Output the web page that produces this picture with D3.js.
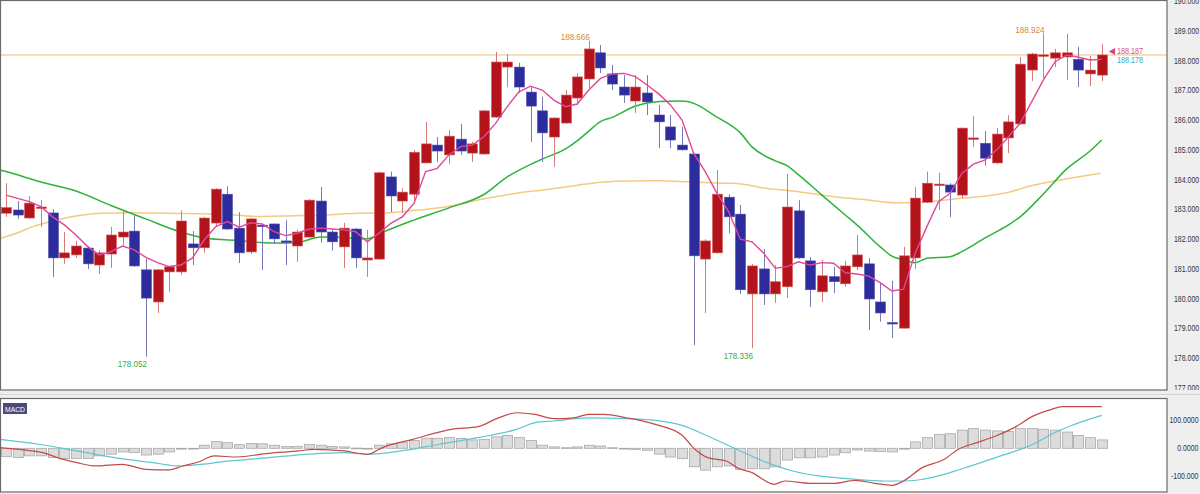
<!DOCTYPE html>
<html>
<head>
<meta charset="utf-8">
<script src="https://cdn.jsdelivr.net/npm/d3@7"></script>
<style>
  html, body { margin: 0; padding: 0; background: #ffffff; }
  svg { display: block; }
  text { font-family: "Liberation Sans", Arial, sans-serif; }
</style>
</head>
<body>
<svg id="chart" width="1200" height="494"></svg>
<script>
// ---------------- DATA ----------------
const opens  = [182.87,182.98,182.71,183.05,182.88,181.37,181.47,181.70,181.13,181.50,
                182.07,182.27,180.97,179.89,180.90,180.90,181.84,181.71,182.54,183.51,
                182.37,181.57,182.47,182.51,181.94,181.77,182.07,183.28,182.24,181.74,
                182.34,181.30,181.33,184.09,183.28,183.51,184.56,185.16,184.83,185.36,
                184.89,184.86,186.10,187.78,187.78,186.94,186.31,185.43,185.90,186.74,
                187.38,188.26,187.55,187.11,186.64,186.91,186.17,185.77,185.16,184.86,
                181.33,181.54,183.41,182.84,180.16,181.00,180.16,180.40,182.95,181.27,
                180.23,180.74,180.50,181.07,181.17,179.89,179.20,179.01,181.37,183.24,
                183.80,183.82,183.48,185.36,185.22,184.56,185.40,185.87,187.68,188.17,
                188.08,188.12,188.04,187.55,187.51];
const highs  = [183.88,183.28,183.45,183.32,183.01,182.24,181.94,181.77,181.64,182.41,
                182.95,182.81,181.34,181.00,181.08,182.96,182.27,182.75,183.71,183.78,
                182.91,182.71,182.50,182.53,182.64,182.32,183.34,183.75,182.31,182.55,
                182.37,182.31,184.27,184.27,183.71,185.00,185.94,185.43,185.67,185.87,
                185.27,186.34,188.29,188.22,187.92,187.11,186.78,186.10,187.01,187.58,
                188.666,188.52,187.85,187.51,187.51,187.51,186.51,186.17,185.77,184.88,
                182.00,184.32,183.51,183.15,181.17,181.67,181.13,184.19,183.31,181.40,
                181.30,181.07,181.27,182.14,181.37,180.53,180.60,181.74,183.75,184.27,
                184.23,183.88,185.75,186.14,185.63,185.73,186.17,188.12,188.26,188.924,
                188.39,188.90,188.46,188.15,188.55];
const lows   = [182.75,182.68,182.68,182.41,180.73,181.17,181.37,181.00,180.83,181.03,
                181.80,181.07,178.052,179.52,180.23,180.80,181.13,181.54,182.41,182.31,
                181.20,181.50,180.96,181.84,181.13,181.24,182.05,181.88,181.61,181.03,
                181.03,180.73,181.30,182.91,182.88,183.21,184.55,184.59,184.52,184.83,
                184.59,184.83,186.07,187.11,186.91,185.26,184.60,184.43,185.88,186.51,
                187.08,187.58,187.01,186.58,186.24,186.17,185.06,185.06,184.98,178.44,
                179.52,181.52,182.20,180.16,178.336,179.79,179.86,180.02,181.34,179.72,
                179.89,180.19,180.40,180.96,178.95,179.23,178.68,179.00,181.00,183.21,
                182.98,182.74,183.38,185.10,184.46,184.52,184.89,185.84,187.31,187.41,
                187.78,187.35,187.11,187.14,187.31];
const closes = [183.06,182.81,183.21,183.08,181.37,181.54,181.77,181.17,181.54,182.14,
                182.24,181.10,180.02,180.97,181.07,182.61,181.71,182.71,183.68,182.34,
                181.54,182.68,182.45,182.01,181.91,182.24,183.31,182.24,181.91,182.37,
                181.37,181.37,184.23,183.45,183.58,184.92,185.20,184.96,185.46,184.96,
                185.20,186.31,187.95,187.95,187.11,186.47,185.57,186.07,186.84,187.45,
                188.39,187.75,187.21,186.84,187.11,186.61,185.94,185.33,185.00,181.44,
                181.94,183.51,182.75,180.30,181.10,180.16,180.57,183.08,181.37,180.30,
                180.77,180.57,181.10,181.47,179.99,179.52,179.16,181.44,183.38,183.88,
                183.85,183.58,185.73,185.40,184.72,185.53,185.94,187.88,188.22,188.19,
                188.26,188.26,187.68,187.68,188.187];

// short moving average (pink), one value per candle
const maShort = [183.48,183.37,183.26,183.09,182.75,182.48,182.14,181.75,181.47,181.58,
                 181.77,181.64,181.39,181.21,181.08,181.13,181.37,181.97,182.42,182.59,
                 182.40,182.55,182.51,182.25,182.12,182.20,182.34,182.37,182.34,182.31,
                 182.25,181.91,182.20,182.53,182.75,183.20,184.27,184.38,184.83,185.11,
                 185.16,185.44,185.89,186.45,186.95,187.14,187.01,186.67,186.45,186.54,
                 187.01,187.40,187.55,187.57,187.46,187.18,186.88,186.51,186.00,184.88,
                 184.26,183.54,182.92,182.00,181.91,181.53,181.02,181.08,181.24,181.13,
                 181.21,181.19,180.87,180.83,180.76,180.54,180.26,180.32,181.53,182.42,
                 183.26,183.54,184.21,184.52,184.66,185.00,185.44,185.89,186.62,187.35,
                 187.96,188.19,188.11,188.02,188.04];

// medium moving average (green), sampled at candle positions
const maMidIdx = [-0.5,0,3,6,9,12,15,17,20,23,25,27,29,30,31,32,33,35,38,41,43,45,46,48,49,50,51,52,54,56,58,59,
                  61,62,63,64,66,67,68,70,72,73,75,76,77,78,79,81,82,84,86,87,89,91,93,94];
const maMidVal = [184.32,184.27,183.92,183.62,183.13,182.68,182.24,182.04,181.95,181.87,181.89,182.07,182.06,182.01,182.01,182.17,182.34,182.64,183.05,183.50,184.09,184.51,184.69,185.03,185.30,185.63,185.95,186.09,186.47,186.62,186.64,186.56,
                  186.10,185.87,185.57,185.10,184.63,184.47,184.16,183.48,182.81,182.48,181.74,181.43,181.30,181.21,181.36,181.41,181.58,182.04,182.48,182.75,183.52,184.36,184.96,185.33];

// long moving average (tan), sampled at candle positions
const maLongIdx = [-0.5,0.9,2.3,3.8,5.2,6.6,8.1,10.9,13.8,16.6,18.6,21.5,24.3,27.2,30.1,32.9,34.9,37.8,40.6,43.4,46.4,49.2,50.3,53.2,56,58.4,
                   61.2,62.3,65.2,68,70.9,73.8,76.2,77.5,79,81.9,84.7,86.2,87.6,90.5,93.9];
const maLongVal = [182.03,182.20,182.42,182.59,182.72,182.81,182.87,182.89,182.87,182.85,182.84,182.76,182.78,182.81,182.87,182.89,182.96,183.09,183.32,183.52,183.67,183.82,183.88,183.95,183.96,183.93,
                   183.88,183.88,183.71,183.59,183.43,183.32,183.22,183.22,183.26,183.37,183.48,183.59,183.76,183.99,184.21];

// MACD histogram, one value per candle
const macdHist = [-30,-33,-27,-27,-33,-37,-36,-36,-27,-21,-13,-15,-24,-21,-13,-2,-1,11,24,20,
                  13,17,16,11,6,7,14,11,6,5,1,0,11,16,20,28,36,36,38,35,
                  30,32,41,46,38,28,11,5,2,5,11,8,2,-1,-4,-7,-21,-31,-37,-66,
                  -78,-66,-63,-75,-73,-73,-66,-42,-34,-34,-31,-24,-16,-6,-10,-12,-13,-3,23,38,
                  50,52,65,71,65,62,60,70,71,68,65,58,46,38,30];

// MACD line (red)
const macdIdx = [-0.5,1.5,3.4,4.4,6.1,7.7,10,12,13.9,15.2,16.5,17.9,19.8,22.5,25.1,26.4,29,31,32.3,34.9,38.2,40.5,42.1,43.8,45.4,47,48.7,
                 50,51.3,53.2,55.7,58,59.1,60.2,61.8,62.7,64,65.9,66.8,69,71,72.9,74.5,76,77,78.6,80.5,81.7,83.3,84.9,86.5,88.1,89.7,90.6,94];
const macdVal = [2.5,-5.9,-17.9,-33.3,-51.2,-63.1,-57.1,-75,-77.4,-63.1,-48.8,-27.4,-31,-17.9,-9.5,-3.5,-9.5,-21.4,2.5,32,67.7,77.3,106,127,121,106,109,
                 121,121,109,85.6,46.4,-3.5,-33.3,-45.2,-69,-86.9,-128.6,-116.7,-125,-125,-114.3,-125,-132.1,-116.7,-69,-39.3,-3.5,20.4,44,73.8,115,139,148.7,148.7];

// signal line (cyan)
const sigIdx = [-0.5,2.8,6.1,9.3,12.6,14.9,15.9,19.2,22.5,25.7,29,31,33.9,37.2,40.5,43.8,45.4,47,
                50,53.2,55.7,58,60.2,62.7,65.3,67.5,69.7,72.2,75.4,77.3,78.6,80.5,81.7,84.9,88.1,90,91.3,94];
const sigVal = [32,14.5,-9.5,-33.3,-51.2,-63.1,-60.7,-45.2,-33.3,-21.4,-15.5,-21.4,-9.5,14.5,38,67.7,91.6,97.5,
                109,106,100,82,44,-3.5,-51.2,-81,-98.8,-108.3,-116.7,-116.7,-110.7,-92.9,-77.4,-33.3,14.5,56.3,79.6,117.5];

// axis ticks
const priceTicks = [177,178,179,180,181,182,183,184,185,186,187,188,189,190];
const priceTickLabels = ["177.000","178.000","179.000","180.000","181.000","182.000","183.000","184.000","185.000","186.000","187.000","188.000","189.000","190.000"];
const macdTicks = [100,0,-100];
const macdTickLabels = ["100.0000","0.0000","-100.000"];

// annotations
const highMarks = [{i:50, label:"188.666"},{i:89, label:"188.924"}];
const lowMarks  = [{i:12, label:"178.052"},{i:64, label:"178.336"}];
const lastBid = 188.187, lastAsk = 188.178;
const lastLabels = ["188.187","188.178"];

// ---------------- DRAW ----------------
const W = 1200, H = 494;
const plotRight = 1167;
const main = {top: 0, bottom: 390};
const sub  = {top: 398, bottom: 492};

const svg = d3.select("#chart");

const n = closes.length;
const x = d3.scaleLinear().domain([0, n - 1]).range([6, 1101.7]);
const y = d3.scaleLinear().domain([177, 190]).range([388, 1]);
const ym = d3.scaleLinear().domain([-100, 100]).range([476.3, 420.3]);

// background areas
svg.append("rect").attr("x",0).attr("y",0).attr("width",W).attr("height",H).attr("fill","#efefef");
svg.append("rect").attr("x",0).attr("y",main.top).attr("width",plotRight).attr("height",main.bottom-main.top).attr("fill","#ffffff");
svg.append("rect").attr("x",0).attr("y",sub.top).attr("width",plotRight).attr("height",sub.bottom-sub.top).attr("fill","#ffffff");
svg.append("line").attr("x1",0).attr("x2",W).attr("y1",394.5).attr("y2",394.5).attr("stroke","#d4d4d4");

const defs = svg.append("defs");
defs.append("clipPath").attr("id","clipMain").append("rect")
  .attr("x",0).attr("y",main.top).attr("width",plotRight).attr("height",main.bottom-main.top);
defs.append("clipPath").attr("id","clipSub").append("rect")
  .attr("x",0).attr("y",sub.top).attr("width",plotRight).attr("height",sub.bottom-sub.top);
defs.append("clipPath").attr("id","clipAxisMain").append("rect")
  .attr("x",plotRight).attr("y",0).attr("width",W-plotRight).attr("height",main.bottom);
defs.append("clipPath").attr("id","clipAxisSub").append("rect")
  .attr("x",plotRight).attr("y",sub.top).attr("width",W-plotRight).attr("height",sub.bottom-sub.top);

const gMain = svg.append("g").attr("clip-path","url(#clipMain)");
const gSub = svg.append("g").attr("clip-path","url(#clipSub)");

// current price line
gMain.append("line").attr("x1",0).attr("x2",plotRight)
  .attr("y1",y(lastBid)).attr("y2",y(lastBid))
  .attr("stroke","#f2bd6e").attr("stroke-width",1);

// long & mid MAs
const lineIdx = d3.line().x(d => x(d[0])).y(d => y(d[1])).curve(d3.curveMonotoneX);
gMain.append("path").datum(maLongIdx.map((v,k)=>[v, maLongVal[k]]))
  .attr("d", lineIdx).attr("fill","none").attr("stroke","#f6c983").attr("stroke-width",1.5);
gMain.append("path").datum(maMidIdx.map((v,k)=>[v, maMidVal[k]]))
  .attr("d", lineIdx).attr("fill","none").attr("stroke","#2eb33a").attr("stroke-width",1.5);

// candles
const upFill = "#b3141c", upWick = "#d67a7a", dnFill = "#2c2c9c", dnWick = "#7a7ab8";
const bodyW = 10;
const candles = gMain.append("g").selectAll("g").data(d3.range(n)).join("g");
candles.append("line")
  .attr("x1", i => Math.round(x(i)) + 0.5).attr("x2", i => Math.round(x(i)) + 0.5)
  .attr("y1", i => y(highs[i])).attr("y2", i => y(lows[i]))
  .attr("stroke", i => closes[i] >= opens[i] ? upWick : dnWick).attr("stroke-width",1);
candles.append("rect")
  .attr("x", i => Math.round(x(i)) + 0.5 - bodyW/2)
  .attr("width", bodyW)
  .attr("y", i => y(Math.max(opens[i], closes[i])))
  .attr("height", i => Math.max(1.5, Math.abs(y(opens[i]) - y(closes[i]))))
  .attr("fill", i => closes[i] >= opens[i] ? upFill : dnFill)
  .attr("stroke", i => closes[i] >= opens[i] ? "#d85a5a" : "#5050b0")
  .attr("stroke-width", 0.6);

// short MA (pink)
gMain.append("path").datum(maShort)
  .attr("d", d3.line().x((d,i)=>x(i)).y(d=>y(d)))
  .attr("fill","none").attr("stroke","#e0489a").attr("stroke-width",1.4);

// condensed text helper
function ctext(g, tx, ty, str, opts) {
  const sx = opts.sx || 0.85;
  return g.append("text")
    .attr("transform", `translate(${tx},${ty}) scale(${sx},1)`)
    .attr("text-anchor", opts.anchor || "start")
    .attr("font-size", opts.size || 9)
    .attr("fill", opts.color || "#333")
    .text(str);
}

// high / low labels
highMarks.forEach(m => ctext(gMain, x(m.i) + 1, y(highs[m.i]) - 0.5, m.label, {anchor:"end", size:9.5, color:"#cf8a3e"}));
lowMarks.forEach(m => ctext(gMain, x(m.i) + 1, y(lows[m.i]) + 10.5, m.label, {anchor:"end", size:9.5, color:"#3fa93f"}));

// last price marker & labels
svg.append("path")
  .attr("d", d3.symbol().type(d3.symbolTriangle).size(22)())
  .attr("transform", `translate(1113,${y(lastBid)-3.5}) rotate(-90)`)
  .attr("fill","#d0458c");
ctext(svg, 1117, y(lastBid) - 1, lastLabels[0], {size:8.5, color:"#cf4f93"});
ctext(svg, 1117, y(lastAsk) + 8, lastLabels[1], {size:8.5, color:"#3aa8c8"});

// main panel border
svg.append("rect").attr("x",0.5).attr("y",0.5).attr("width",plotRight-0.5).attr("height",main.bottom-0.5)
  .attr("fill","none").attr("stroke","#6a6a6a").attr("stroke-width",1.2);

// main axis labels
const gAx = svg.append("g").attr("clip-path","url(#clipAxisMain)");
priceTicks.forEach((t,k) => ctext(gAx, 1174, y(t) + 3, priceTickLabels[k], {size:8.5, sx:0.82, color:"#333"}));

// ---------------- MACD panel ----------------
gSub.append("g").selectAll("rect").data(d3.range(n)).join("rect")
  .attr("x", i => Math.round(x(i)) + 0.5 - bodyW/2)
  .attr("width", bodyW)
  .attr("y", i => Math.min(ym(0), ym(macdHist[i])))
  .attr("height", i => Math.max(0.8, Math.abs(ym(macdHist[i]) - ym(0))))
  .attr("fill","#dcdcdc").attr("stroke","#a9a9a9").attr("stroke-width",0.8);

const lineM = d3.line().x(d => x(d[0])).y(d => ym(d[1])).curve(d3.curveMonotoneX);
gSub.append("path").datum(sigIdx.map((v,k)=>[v, sigVal[k]]))
  .attr("d", lineM).attr("fill","none").attr("stroke","#5cc8cc").attr("stroke-width",1.2);
gSub.append("path").datum(macdIdx.map((v,k)=>[v, macdVal[k]]))
  .attr("d", lineM).attr("fill","none").attr("stroke","#c44a4a").attr("stroke-width",1.2);

// MACD label box
svg.append("rect").attr("x",3).attr("y",403).attr("width",24).attr("height",11).attr("fill","#4a4a7e");
ctext(svg, 15, 411.5, "MACD", {anchor:"middle", size:8, sx:0.85, color:"#ffffff"});

svg.append("rect").attr("x",0.5).attr("y",sub.top+0.5).attr("width",plotRight-0.5).attr("height",sub.bottom-sub.top-0.5)
  .attr("fill","none").attr("stroke","#6a6a6a").attr("stroke-width",1.2);

const gAx2 = svg.append("g").attr("clip-path","url(#clipAxisSub)");
macdTicks.forEach((t,k) => ctext(gAx2, 1198.5, ym(t) + 3, macdTickLabels[k], {anchor:"end", size:8.5, sx:0.82, color:"#333"}));
</script>
</body>
</html>
